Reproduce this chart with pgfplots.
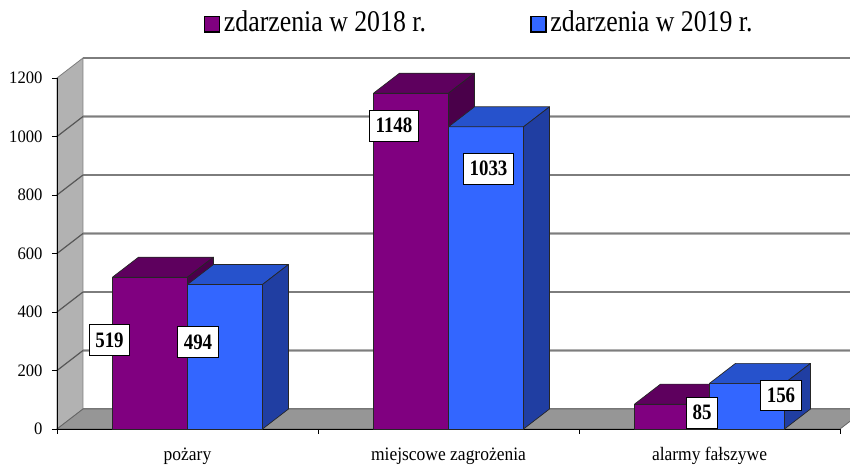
\documentclass[border=0pt]{standalone}
\usepackage{pgfplots}
\pgfplotsset{compat=1.18}
\usepackage{pgfplotstable}
\usepackage{fontspec}
\setmainfont{Liberation Serif}
\newfontfamily\lgfam[FakeStretch=0.86]{Liberation Serif}
\newfontfamily\lblfam[FakeStretch=0.86]{Liberation Serif}
\newfontfamily\tickfam[FakeStretch=0.95]{Liberation Serif}
\newfontfamily\catfam[FakeStretch=0.92]{Liberation Serif}

\definecolor{p18}{RGB}{128,0,128}
\definecolor{p18top}{RGB}{94,0,94}
\definecolor{p18side}{RGB}{74,0,74}
\definecolor{b19}{RGB}{51,102,255}
\definecolor{b19top}{RGB}{38,82,204}
\definecolor{b19side}{RGB}{32,62,162}
\definecolor{wallgray}{RGB}{178,178,178}
\definecolor{floorgray}{RGB}{150,150,150}
\definecolor{gridgray}{RGB}{125,125,125}

\pgfplotstableread{
x v18 v19
0 519 494
1 1148 1033
2 85 156
}\datatable

\pgfdeclareplotmark{void}{}

% front, top and side faces of one bar, drawn at its data point (top centre)
\newcommand\cubefaces[3]{%
  \pgfmathsetmacro\hh{\barval*0.2925}%
  \filldraw[fill=#1, draw=black!85, line width=0.7pt, line join=round]
    (-37.5pt,-\hh pt) rectangle (37.5pt,0pt);
  \filldraw[fill=#2, draw=black!85, line width=0.7pt, line join=round]
    (-37.5pt,0pt) -- (37.5pt,0pt) -- (63.5pt,20pt) -- (-11.5pt,20pt) -- cycle;
  \filldraw[fill=#3, draw=black!85, line width=0.7pt, line join=round]
    (37.5pt,0pt) -- (63.5pt,20pt) -- (63.5pt,20pt-\hh pt) -- (37.5pt,-\hh pt) -- cycle;
}

\tikzset{lbl/.style={fill=white, draw=black, line width=0.8pt,
  font=\lblfam\bfseries\fontsize{22}{22}\selectfont, inner xsep=6pt, inner ysep=8pt}}

\begin{document}
\begin{tikzpicture}
\begin{axis}[name=ax, scale only axis, x=261pt, y=0.2925pt,
  xmin=-0.5, xmax=2.5, ymin=0, ymax=1200, clip=false, axis on top,
  axis x line*=bottom, axis y line*=left, tick align=outside,
  major tick length=5pt, axis line style={black, line width=0.9pt},
  tick style={black, line width=0.9pt},
  ytick={0,200,400,600,800,1000,1200},
  /pgf/number format/assume math mode=true, /pgf/number format/1000 sep={},
  yticklabel style={font=\tickfam\fontsize{17.5}{17.5}\selectfont, xshift=-6pt},
  xtick={-0.5,0.5,1.5,2.5}, xticklabels={{},{},{},{}},
  extra x ticks={0,1,2},
  extra x tick labels={pożary, miejscowe zagrożenia, alarmy fałszywe},
  extra x tick style={major tick length=0pt},
  xticklabel style={font=\catfam\fontsize{19}{19}\selectfont, yshift=-15pt},
  legend columns=2, legend cell align=left,
  legend style={draw=none, fill=none, at={(0.5402,1.1595)}, anchor=center,
    font=\lgfam\fontsize{30}{34}\selectfont,
    nodes={inner ysep=2pt, inner xsep=3.5pt},
    /tikz/every even column/.append style={column sep=101pt}},
]
% back wall grid
\pgfplotsinvokeforeach{0,200,400,600,800,1000,1200}{
  \draw[gridgray!60, line width=2.6pt] ([shift={(26pt,20pt)}]axis cs:-0.5,#1) -- ([shift={(26pt,20pt)}]axis cs:2.4425,#1);
  \draw[gridgray, line width=1.2pt] ([shift={(26pt,20pt)}]axis cs:-0.5,#1) -- ([shift={(26pt,20pt)}]axis cs:2.4425,#1);
}
% left wall
\filldraw[fill=wallgray, draw=gridgray, line width=0.8pt] (axis cs:-0.5,0) -- (axis cs:-0.5,1200) -- ([shift={(26pt,20pt)}]axis cs:-0.5,1200) -- ([shift={(26pt,20pt)}]axis cs:-0.5,0) -- cycle;
\pgfplotsinvokeforeach{200,400,600,800,1000}{
  \draw[gridgray!70!black, line width=1.2pt] (axis cs:-0.5,#1) -- ([shift={(26pt,20pt)}]axis cs:-0.5,#1);
}
% floor
\filldraw[fill=floorgray, draw=gridgray!80!black, line width=0.8pt] (axis cs:-0.5,0) -- (axis cs:2.5,0) -- ([shift={(26pt,20pt)}]axis cs:2.5,0) -- ([shift={(26pt,20pt)}]axis cs:-0.5,0) -- cycle;

% 2018
\addplot[ybar, bar width=75pt, bar shift=-37.5pt, fill=p18, draw=black!85, line width=0.7pt,
  legend image code/.code={\draw[fill=p18, draw=black, line width=1.5pt] (0pt,-10pt) rectangle (15pt,5.5pt);}]
  table[x=x, y=v18] {\datatable};
\addlegendentry{zdarzenia w 2018 r.}
\addplot[forget plot, only marks, mark=void, scatter,
  visualization depends on={rawy \as \barval},
  scatter/@pre marker code/.code={\pgfscope\cubefaces{p18}{p18top}{p18side}},
  scatter/@post marker code/.code={\endpgfscope}]
  table[x expr=\thisrow{x}-0.143678, y=v18] {\datatable};
% 2019
\addplot[ybar, bar width=75pt, bar shift=37.5pt, fill=b19, draw=black!85, line width=0.7pt,
  legend image code/.code={\draw[fill=b19, draw=black, line width=1.5pt] (0pt,-10pt) rectangle (15pt,5.5pt);}]
  table[x=x, y=v19] {\datatable};
\addlegendentry{zdarzenia w 2019 r.}
\addplot[forget plot, only marks, mark=void, scatter,
  visualization depends on={rawy \as \barval},
  scatter/@pre marker code/.code={\pgfscope\cubefaces{b19}{b19top}{b19side}},
  scatter/@post marker code/.code={\endpgfscope}]
  table[x expr=\thisrow{x}+0.143678, y=v19] {\datatable};

% data label positions
\coordinate (l1) at (axis cs:-0.2989,304.3);
\coordinate (l2) at (axis cs:0.0402,297.4);
\coordinate (l3) at (axis cs:0.7912,1037.6);
\coordinate (l4) at (axis cs:1.1533,890.6);
\coordinate (l5) at (axis cs:1.9713,56.4);
\coordinate (l6) at (axis cs:2.2739,114.5);
\end{axis}
\node[lbl] at (l1) {519};
\node[lbl] at (l2) {494};
\node[lbl] at (l3) {1148};
\node[lbl] at (l4) {1033};
\node[lbl] at (l5) {85};
\node[lbl] at (l6) {156};
\pgfresetboundingbox
\path[use as bounding box] (ax.south west) ++(-57pt,-36pt) rectangle ++(850pt,465pt);
\end{tikzpicture}
\end{document}
